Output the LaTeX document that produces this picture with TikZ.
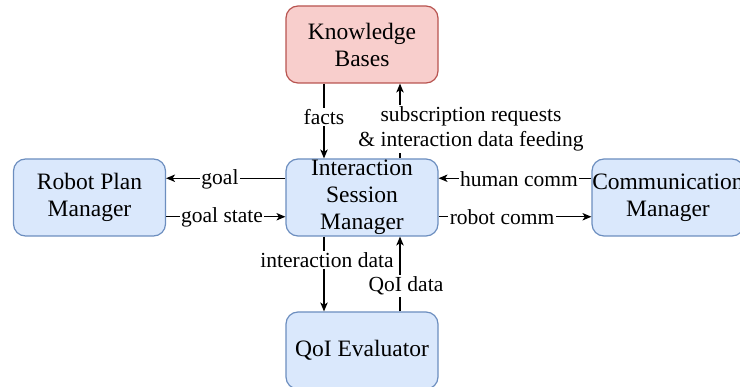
\documentclass[tikz,border=0pt]{standalone}
\usepackage{fontspec}
\setmainfont{Liberation Serif}
\usetikzlibrary{arrows.meta}
\definecolor{bfill}{HTML}{DAE8FC}
\definecolor{bdraw}{HTML}{6C8EBF}
\definecolor{rfill}{HTML}{F8CECC}
\definecolor{rdraw}{HTML}{B85450}
\tikzset{
  box/.style={rectangle, rounded corners=12pt, minimum width=152pt, minimum height=77pt, line width=1.2pt, inner sep=0pt},
  bluebox/.style={box, fill=bfill, draw=bdraw},
  redbox/.style={box, fill=rfill, draw=rdraw},
  boxtext/.style={align=center, inner sep=0pt, font=\fontsize{23.5}{27}\selectfont},
  lbl/.style={fill=white, inner sep=1.5pt, align=center, font=\fontsize{21.5}{25.5}\selectfont},
  arr/.style={line width=1.2pt, -{Stealth[length=9pt,width=7.5pt,inset=2.5pt]}}
}
\begin{document}
\begin{tikzpicture}[x=1pt,y=-1pt]
\useasboundingbox (0,0) rectangle (740,387);
\clip (0,0) rectangle (740,387);
% boxes
\node[redbox]  (KB)  at (362,44.5)  {};
\node[bluebox] (ISM) at (362,197.5) {};
\node[bluebox] (RPM) at (89.5,197.5) {};
\node[bluebox] (CM)  at (668,197.5) {};
\node[bluebox] (QE)  at (362,350.5) {};
% box texts
\node[boxtext] (KBt)  at (KB)  {Knowledge\\Bases};
\node[boxtext] (ISMt) at (ISM) {Interaction\\Session\\Manager};
\node[boxtext] (RPMt) at (RPM) {Robot Plan\\Manager};
\node[boxtext] (CMt)  at (CM)  {Communication\\Manager};
\node[boxtext] (QEt)  at (QE)  {QoI Evaluator};
% connectors
\draw[arr] ([xshift=-38pt]KB.south) -- ([xshift=-38pt]ISM.north);
\draw[arr] ([xshift=38pt]ISM.north) -- ([xshift=38pt]KB.south);
\draw[arr] ([yshift=19.25pt]ISM.west) -- ([yshift=19.25pt]RPM.east);
\draw[arr] ([yshift=-19.25pt]RPM.east) -- ([yshift=-19.25pt]ISM.west);
\draw[arr] ([yshift=19.25pt]CM.west) -- ([yshift=19.25pt]ISM.east);
\draw[arr] ([yshift=-19.25pt]ISM.east) -- ([yshift=-19.25pt]CM.west);
\draw[arr] ([xshift=-38pt]ISM.south) -- ([xshift=-38pt]QE.north);
\draw[arr] ([xshift=38pt]QE.north) -- ([xshift=38pt]ISM.south);
% labels
\node[lbl] (Lfacts) at (324,117) {facts};
\node[lbl] (Lsub)   at (471,129) {subscription requests\\\& interaction data feeding};
\node[lbl] (Lgoal)  at (220,179) {goal};
\node[lbl] (Lgs)    at (222,217) {goal state};
\node[lbl] (Lhc)    at (519,179) {human comm};
\node[lbl] (Lrc)    at (502,217) {robot comm};
\node[lbl] (Lid)    at (327,260) {interaction data};
\node[lbl] (Lqd)    at (406,286) {QoI data};
\end{tikzpicture}
\end{document}
